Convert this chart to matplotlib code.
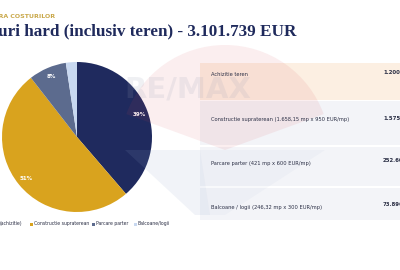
import numpy as np
import matplotlib.pyplot as plt
from matplotlib.patches import Rectangle, Wedge, Polygon

# data
categories = ["Teren (achizitie)", "Constructie supraterean", "Parcare parter", "Balcoane/logii"]
values = [1200000, 1575243, 252600, 73896]
colors = ["#1f2a5e", "#d9a31e", "#5c6b8e", "#c8d8f0"]

row_labels = ["Achizitie teren",
              "Constructie supraterean (1.658,15 mp x 950 EUR/mp)",
              "Parcare parter (421 mp x 600 EUR/mp)",
              "Balcoane / logii (246,32 mp x 300 EUR/mp)"]
row_values = ["1.200.000", "1.575.243", "252.600", "73.896"]

title = "Costuri hard (inclusiv teren) - 3.101.739 EUR"
subtitle = "STRUCTURA COSTURILOR"

W, H = 400, 270
fig = plt.figure(figsize=(4, 2.7), dpi=100)
fig.patch.set_facecolor("white")

# background axes in pixel coords
bg = fig.add_axes([0, 0, 1, 1])
bg.set_xlim(0, W)
bg.set_ylim(H, 0)
bg.axis("off")

row_top = [63, 101, 147, 188]
row_bot = [100, 145, 186, 220]
row_col = ["#fcefe2", "#f3f4f8", "#f3f4f8", "#f3f4f8"]
for i in range(len(row_labels)):
    bg.add_patch(Rectangle((200, row_top[i]), 200, row_bot[i] - row_top[i],
                           facecolor=row_col[i], edgecolor="none"))

# pie
pax = fig.add_axes([0.005, 1 - 212 / H, 150 / W, 150 / H])
wedges, _, autotexts = pax.pie(values, colors=colors, startangle=90, counterclock=False,
                               autopct=lambda p: "%d%%" % round(p), pctdistance=0.88,
                               wedgeprops=dict(linewidth=0),
                               textprops=dict(color="white", fontsize=4, fontweight="bold"))
autotexts[-1].set_visible(False)
pax.set_xlim(-1, 1)
pax.set_ylim(-1, 1)
pax.set_aspect("equal")

# overlay (watermark + text)
ov = fig.add_axes([0, 0, 1, 1])
ov.set_xlim(0, W)
ov.set_ylim(H, 0)
ov.axis("off")
ov.patch.set_alpha(0)

ov.add_patch(Wedge((225, 150), 105, 200, 340, facecolor="#d9434f", alpha=0.09, edgecolor="none"))
ov.add_patch(Polygon([[125, 150], [200, 150], [210, 215], [195, 215]],
                     closed=True, facecolor="#8fa3c8", alpha=0.12, edgecolor="none"))
ov.add_patch(Polygon([[200, 150], [325, 150], [225, 215], [210, 215]],
                     closed=True, facecolor="#8fa3c8", alpha=0.06, edgecolor="none"))
ov.text(188, 90, "RE/MAX", fontsize=21, fontweight="bold", color="#9aa0b5",
        alpha=0.15, ha="center", va="center")

ov.text(55, 16, subtitle, fontsize=4.5, fontweight="bold", color="#c9a84a",
        ha="right", va="center")
ov.text(296, 31, title, fontsize=12.3, fontweight="bold", color="#1f2a5c",
        family="Liberation Serif", ha="right", va="center")

row_y = [74, 119, 163, 207]
val_y = [73, 118, 160, 205]
for i in range(len(row_labels)):
    ov.text(211, row_y[i], row_labels[i], fontsize=3.7, color="#2b2f45", va="center")
    ov.text(383, val_y[i], row_values[i], fontsize=3.9, color="#2b2f45",
            fontweight="bold", va="center")

# legend
leg_x = [0, 34, 96, 138]
for i in range(len(categories)):
    if i > 0:
        ov.add_patch(Rectangle((leg_x[i] - 4.5, 222.5), 3, 3, facecolor=colors[i], edgecolor="none"))
    lbl = categories[i] if i > 0 else "(achizitie)"
    ov.text(leg_x[i], 224, lbl, fontsize=3.3, color="#2b2f45", va="center")

fig.savefig("out.png", dpi=100)
